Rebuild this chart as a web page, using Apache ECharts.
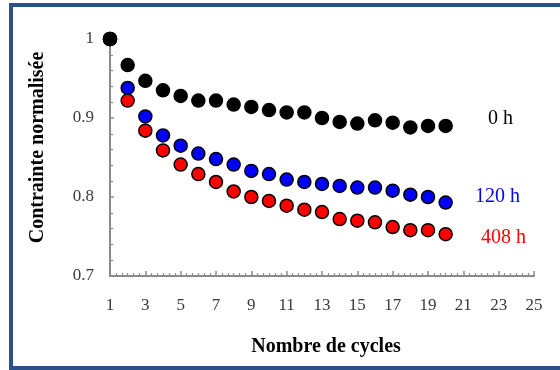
<!DOCTYPE html>
<html><head><meta charset="utf-8">
<script src="https://cdn.jsdelivr.net/npm/echarts@6/dist/echarts.min.js"></script>
<style>html,body{margin:0;padding:0;background:#fff}#c{width:560px;height:370px}</style>
</head><body><div id="c"></div>
<script>
const cycles = [1,2,3,4,5,6,7,8,9,10,11,12,13,14,15,16,17,18,19,20];
const stress0h   = [1.000,0.967,0.947,0.935,0.928,0.922,0.922,0.917,0.914,0.910,0.907,0.907,0.900,0.895,0.893,0.897,0.894,0.888,0.890,0.890];
const stress120h = [1.000,0.938,0.902,0.878,0.865,0.855,0.848,0.841,0.833,0.829,0.822,0.819,0.8165,0.814,0.812,0.812,0.808,0.803,0.800,0.793];
const stress408h = [1.000,0.922,0.884,0.859,0.841,0.829,0.819,0.807,0.800,0.795,0.789,0.784,0.781,0.772,0.770,0.768,0.762,0.758,0.758,0.753];
const seriesNames = ['0 h','120 h','408 h'];
const xTickLabels = [1,3,5,7,9,11,13,15,17,19,21,23,25];
const yTickLabels = [0.7,0.8,0.9,1];

const xMinorTicks = [];
for (let k = 0; k <= 72; k++) { if (k % 6 !== 0) xMinorTicks.push(1 + k / 3); }

const serif = '"Liberation Serif","Times New Roman",serif';
const axisGray = '#8a8a8a';

function build(values, name, color, labelColor, dist, dy) {
  return cycles.map((c, i) => {
    const item = { value: [c, values[i]] };
    if (i === cycles.length - 1) {
      item.label = { show: true, position: 'right', distance: dist, offset: [0, dy],
        formatter: name, color: labelColor, fontFamily: serif, fontSize: 20 };
    }
    return item;
  });
}

const chart = echarts.init(document.getElementById('c'), null, { renderer: 'canvas' });
chart.setOption({
  animation: false,
  backgroundColor: '#fff',
  grid: { left: 110, right: 26, top: 39, bottom: 94, containLabel: false },
  graphic: [{ type: 'rect', shape: { x: 11, y: 5, width: 575, height: 363 },
    style: { fill: 'none', stroke: '#2B5188', lineWidth: 4 }, z: 100 }],
  xAxis: [{
    type: 'value', min: 1, max: 25, position: 'bottom',
    axisLine: { onZero: false, lineStyle: { color: axisGray, width: 2 } },
    axisTick: { inside: true, length: 5, customValues: xTickLabels, lineStyle: { color: axisGray, width: 1.5 } },
    axisLabel: { customValues: xTickLabels, margin: 21, color: '#3a3a3a', fontFamily: serif, fontSize: 17 },
    splitLine: { show: false },
    name: 'Nombre de cycles', nameLocation: 'middle', nameGap: 61,
    nameTextStyle: { fontFamily: serif, fontWeight: 'bold', fontSize: 20, color: '#000', padding: [0, 0, 0, 8] }
  }, {
    type: 'value', min: 1, max: 25, position: 'bottom', gridIndex: 0,
    axisLine: { show: false, onZero: false },
    axisTick: { inside: true, length: 3, customValues: xMinorTicks, lineStyle: { color: axisGray, width: 1.2 } },
    axisLabel: { show: false }, splitLine: { show: false }
  }],
  yAxis: {
    type: 'value', min: 0.7, max: 1, interval: 0.1,
    axisLine: { show: true, onZero: false, lineStyle: { color: axisGray, width: 2 } },
    axisTick: { show: true, inside: true, length: 4, lineStyle: { color: axisGray, width: 1.5 } },
    minorTick: { show: true, splitNumber: 5, length: 3, lineStyle: { color: axisGray, width: 1.2 } },
    axisLabel: { margin: 16, color: '#3a3a3a', fontFamily: serif, fontSize: 17,
      formatter: v => (Math.abs(v - 1) < 1e-9 ? '1' : String(Math.round(v * 10) / 10)) },
    splitLine: { show: false },
    name: 'Contrainte normalisée', nameLocation: 'middle', nameGap: 62,
    nameTextStyle: { fontFamily: serif, fontWeight: 'bold', fontSize: 20, color: '#000', padding: [0, 0, 0, 20] }
  },
  series: [
    { type: 'scatter', name: seriesNames[2], data: build(stress408h, seriesNames[2], '#FF0000', '#FF0000', 28, 4),
      symbol: 'circle', symbolSize: 13, itemStyle: { color: '#FF0000', borderColor: '#000', borderWidth: 1.5, opacity: 1 } },
    { type: 'scatter', name: seriesNames[1], data: build(stress120h, seriesNames[1], '#0000FF', '#0000FF', 22, -6),
      symbol: 'circle', symbolSize: 13, itemStyle: { color: '#0000FF', borderColor: '#000', borderWidth: 1.5, opacity: 1 } },
    { type: 'scatter', name: seriesNames[0], data: build(stress0h, seriesNames[0], '#000', '#000', 35, -7),
      symbol: 'circle', symbolSize: 13, itemStyle: { color: '#000', borderColor: '#000', borderWidth: 1.5, opacity: 1 } }
  ]
});
</script></body></html>
